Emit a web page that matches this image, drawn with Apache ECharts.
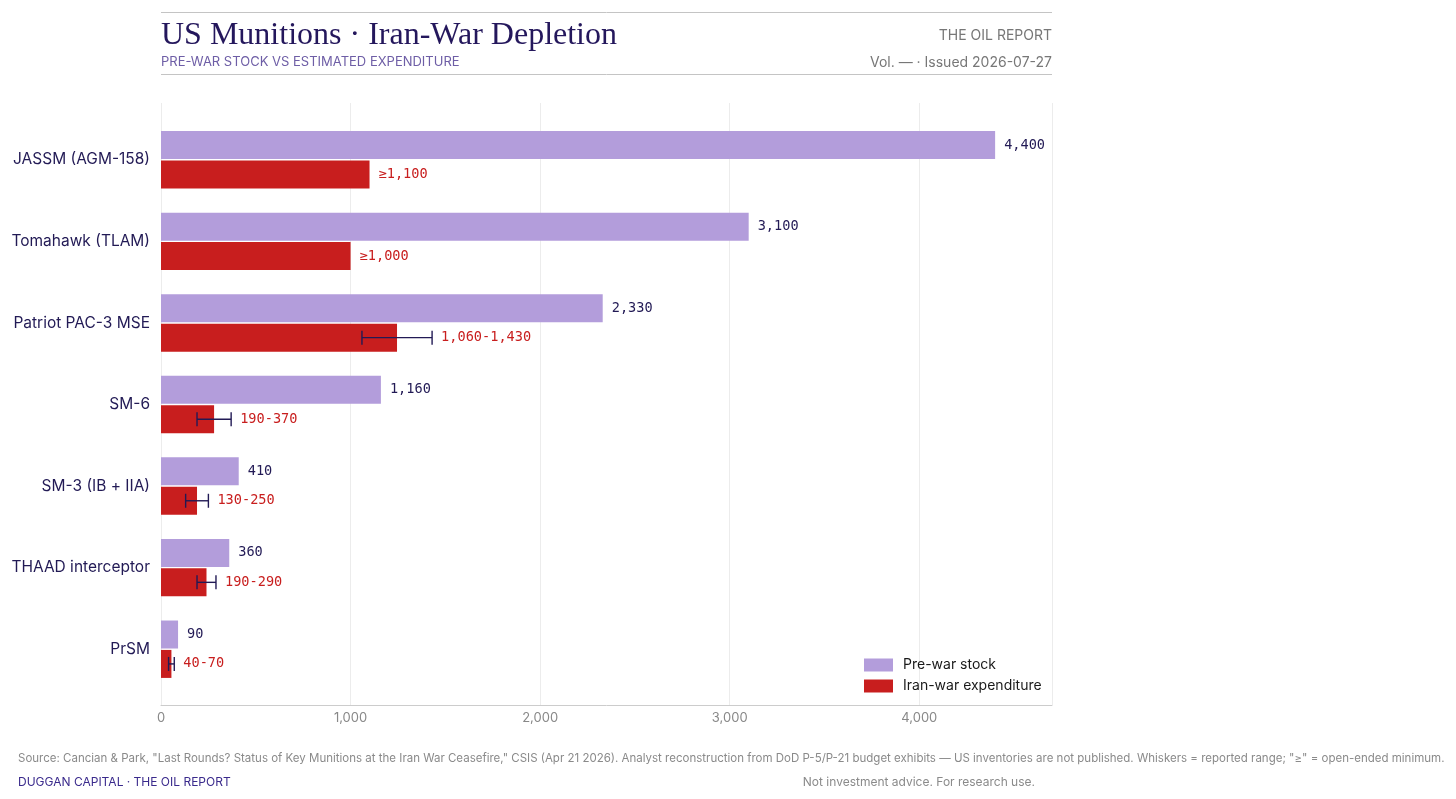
<!DOCTYPE html>
<html>
<head>
<meta charset="utf-8">
<title>US Munitions · Iran-War Depletion</title>
<script src="https://cdn.jsdelivr.net/npm/echarts@6/dist/echarts.min.js"></script>
<style>
  html, body { margin: 0; padding: 0; background: #fff; }
  #container { width: 1456px; height: 799px; }
</style>
</head>
<body>
<div id="container"></div>
<script>
// data
const categories = ['JASSM (AGM-158)', 'Tomahawk (TLAM)', 'Patriot PAC-3 MSE', 'SM-6', 'SM-3 (IB + IIA)', 'THAAD interceptor', 'PrSM'];
const stock = [4400, 3100, 2330, 1160, 410, 360, 90];
const expLow = [1100, 1000, 1060, 190, 130, 190, 40];
const expHigh = [null, null, 1430, 370, 250, 290, 70]; // null = open-ended minimum
const xTicks = [0, 1000, 2000, 3000, 4000];

const INK = '#221a55';
const RED = '#c81e1e';
const PURPLE = '#b39ddb';
const MONO = '"DejaVu Sans Mono", monospace';
const SANS = 'Inter, "Noto Sans", sans-serif';

function fmt(v) {
    return String(v).replace(/\B(?=(\d{3})+(?!\d))/g, ',');
}

// red bar = middle of the reported range, or the minimum when open-ended
const expBar = expLow.map((lo, i) => expHigh[i] == null ? lo : (lo + expHigh[i]) / 2);
const expText = expLow.map((lo, i) => expHigh[i] == null ? '≥' + fmt(lo) : fmt(lo) + '-' + fmt(expHigh[i]));

const BAR_W = 28;
const BAR_GAP = 0.05;
const redOffset = (BAR_W + BAR_W * BAR_GAP) / 2;

const dom = document.getElementById('container');
const myChart = echarts.init(dom);

const option = {
    animation: false,
    textStyle: { fontFamily: SANS },
    grid: [
        { left: 161, right: 404, top: 103, bottom: 94 },   // axis + gridlines
        { left: 161, right: 404, top: 119, bottom: 109 }   // bars
    ],
    xAxis: [
        {
            gridIndex: 0, type: 'value', min: 0, max: 4700, interval: 1000,
            axisLine: { show: true, lineStyle: { color: '#cccccc', width: 1 } },
            axisTick: { show: false },
            axisLabel: {
                color: '#888888', fontSize: 13, margin: 7,
                formatter: v => xTicks.indexOf(v) >= 0 ? fmt(v) : ''
            },
            splitLine: { show: true, lineStyle: { color: '#ececec', width: 1 } }
        },
        {
            gridIndex: 1, type: 'value', min: 0, max: 4700,
            show: false
        }
    ],
    yAxis: [
        { gridIndex: 0, type: 'value', show: false },
        {
            gridIndex: 1, type: 'category', data: categories, inverse: true,
            axisLine: { show: false },
            axisTick: { show: false },
            axisLabel: { color: INK, fontSize: 15.5, margin: 11, fontFamily: SANS }
        }
    ],
    legend: {
        orient: 'vertical',
        left: 859,
        top: 653,
        itemWidth: 29,
        itemHeight: 13,
        itemGap: 7,
        icon: 'rect',
        textStyle: { color: '#1a1a1a', fontSize: 14, fontFamily: SANS, padding: [0, 0, 0, 5] },
        data: ['Pre-war stock', 'Iran-war expenditure']
    },
    series: [
        {
            name: 'Pre-war stock',
            type: 'bar',
            xAxisIndex: 1, yAxisIndex: 1,
            data: stock,
            barWidth: BAR_W,
            barGap: (BAR_GAP * 100) + '%',
            itemStyle: { color: PURPLE },
            label: {
                show: true, position: 'right', distance: 9,
                color: INK, fontFamily: MONO, fontSize: 13.6,
                formatter: p => fmt(p.value)
            }
        },
        {
            name: 'Iran-war expenditure',
            type: 'bar',
            xAxisIndex: 1, yAxisIndex: 1,
            data: expBar,
            barWidth: BAR_W,
            itemStyle: { color: RED }
        },
        {
            // whiskers for the reported range + expenditure labels
            type: 'custom',
            xAxisIndex: 1, yAxisIndex: 1,
            silent: true,
            z: 5,
            data: categories.map((c, i) => [i, expLow[i], expHigh[i] == null ? expBar[i] : expHigh[i], expHigh[i] == null ? 0 : 1]),
            encode: { y: 0, x: [1, 2] },
            renderItem: function (params, api) {
                const i = api.value(0);
                const lo = api.coord([api.value(1), i]);
                const hi = api.coord([api.value(2), i]);
                const y = lo[1] + redOffset;
                const children = [];
                if (api.value(3) === 1) {
                    const ls = { stroke: INK, lineWidth: 1.4 };
                    children.push(
                        { type: 'line', shape: { x1: lo[0], y1: y, x2: hi[0], y2: y }, style: ls },
                        { type: 'line', shape: { x1: lo[0], y1: y - 7, x2: lo[0], y2: y + 7 }, style: ls },
                        { type: 'line', shape: { x1: hi[0], y1: y - 7, x2: hi[0], y2: y + 7 }, style: ls }
                    );
                }
                children.push({
                    type: 'text',
                    style: {
                        text: expText[i],
                        x: hi[0] + 9, y: y,
                        fill: RED,
                        font: '13.6px ' + MONO,
                        align: 'left', verticalAlign: 'middle'
                    }
                });
                return { type: 'group', children: children };
            }
        }
    ],
    graphic: [
        { type: 'line', shape: { x1: 161, y1: 12.5, x2: 1052, y2: 12.5 }, style: { stroke: '#c4c4c4', lineWidth: 1 } },
        { type: 'line', shape: { x1: 161, y1: 74.5, x2: 1052, y2: 74.5 }, style: { stroke: '#c4c4c4', lineWidth: 1 } },
        {
            type: 'text', left: 161, top: 20,
            style: { text: 'US Munitions · Iran-War Depletion', fill: '#24175c', font: '32px "Liberation Serif", serif' }
        },
        {
            type: 'text', left: 161, top: 56,
            style: { text: 'PRE-WAR STOCK VS ESTIMATED EXPENDITURE', fill: '#6e5ea6', font: '13px ' + SANS }
        },
        {
            type: 'text', right: 404, top: 29,
            style: { text: 'THE OIL REPORT', fill: '#777777', font: '14px ' + SANS, align: 'right' }
        },
        {
            type: 'text', right: 404, top: 56,
            style: { text: 'Vol. — · Issued 2026-07-27', fill: '#777777', font: '14px ' + SANS, align: 'right' }
        },
        {
            type: 'text', left: 18, top: 753,
            style: {
                text: 'Source: Cancian & Park, "Last Rounds? Status of Key Munitions at the Iran War Ceasefire," CSIS (Apr 21 2026). Analyst reconstruction from DoD P-5/P-21 budget exhibits — US inventories are not published. Whiskers = reported range; "≥" = open-ended minimum.',
                fill: '#8a8a8a', font: '11.5px ' + SANS
            }
        },
        {
            type: 'text', left: 18, top: 776,
            style: { text: 'DUGGAN CAPITAL · THE OIL REPORT', fill: '#3a2a8c', font: '12px ' + SANS }
        },
        {
            type: 'text', right: 421, top: 776,
            style: { text: 'Not investment advice. For research use.', fill: '#8a8a8a', font: '12px ' + SANS, align: 'right' }
        }
    ]
};

if (option && typeof option === 'object') {
    myChart.setOption(option, true);
}
</script>
</body>
</html>
